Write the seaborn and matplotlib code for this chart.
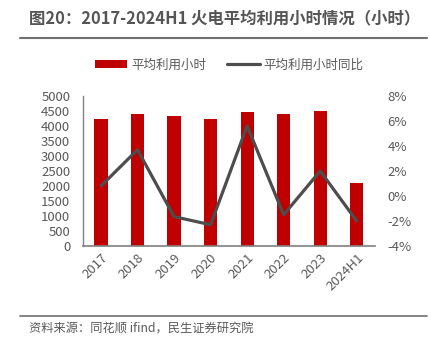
import matplotlib
matplotlib.use("Agg")
import matplotlib.pyplot as plt
import seaborn as sns
import numpy as np
import pandas as pd
from matplotlib.patches import Patch
from matplotlib.lines import Line2D
from matplotlib.ticker import FuncFormatter

years = ["2017", "2018", "2019", "2020", "2021", "2022", "2023", "2024H1"]
hours = [4220, 4400, 4330, 4220, 4470, 4400, 4490, 2100]
yoy = [0.8, 3.7, -1.65, -2.3, 5.6, -1.5, 2.0, -2.0]

title = "图20：2017-2024H1 火电平均利用小时情况（小时）"
bar_label = "平均利用小时"
line_label = "平均利用小时同比"
source = "资料来源：同花顺 ifind，民生证券研究院"

sns.set_theme(style="white")
plt.rcParams["font.family"] = ["Noto Sans CJK SC", "DejaVu Sans"]

df = pd.DataFrame({"year": years, "hours": hours, "yoy": yoy, "pos": np.arange(len(years))})

fig = plt.figure(figsize=(4.31, 3.38), dpi=100)
ax = fig.add_axes([82.7 / 431, 1 - 246 / 338, (375 - 82.7) / 431, 150 / 338])

red = "#C00000"
gray_line = "#4D4D4D"
txt = "#595959"

sns.barplot(data=df, x="year", y="hours", color=red, width=0.36, ax=ax,
            saturation=1, edgecolor="none")
ax.set_ylim(0, 5000)
ax.set_yticks(np.arange(0, 5001, 500))
ax.set_xlim(-0.5, len(years) - 0.5)
ax.set_xlabel("")
ax.set_ylabel("")

ax2 = ax.twinx()
sns.lineplot(data=df, x="pos", y="yoy", color=gray_line, linewidth=2.3, ax=ax2)
ax2.set_ylim(-4, 8)
ax2.set_yticks(np.arange(-4, 8.1, 2))
ax2.yaxis.set_major_formatter(FuncFormatter(lambda v, p: f"{v:.0f}%"))
ax2.set_ylabel("")
ax2.set_xlabel("")
ax2.set_xlim(-0.5, len(years) - 0.5)

for a in (ax, ax2):
    for s in a.spines.values():
        s.set_visible(False)
ax.spines["left"].set_visible(True)
ax.spines["bottom"].set_visible(True)
ax.spines["left"].set_color("#808080")
ax.spines["bottom"].set_color("#808080")
ax.spines["left"].set_linewidth(1.0)
ax.spines["bottom"].set_linewidth(1.2)

ax.tick_params(axis="y", length=0, pad=9, labelsize=9.5, labelcolor=txt)
ax2.tick_params(axis="y", length=0, pad=9, labelsize=9.5, labelcolor=txt)
ax.tick_params(axis="x", length=0, pad=4, labelsize=9.5, labelcolor=txt)
for lab in ax.get_xticklabels():
    lab.set_rotation(45)
    lab.set_ha("right")
    lab.set_rotation_mode("anchor")

handles = [Patch(facecolor=red, edgecolor="none"),
           Line2D([0], [0], color=gray_line, linewidth=2.3)]
fig.legend(handles, [bar_label, line_label], loc="center", ncol=2,
           bbox_to_anchor=(229 / 431, 1 - 65 / 338), frameon=False,
           fontsize=9, handlelength=2.6, handleheight=0.6, handletextpad=0.3,
           columnspacing=1.7, labelcolor=txt)

fig.text(29 / 431, 1 - 18 / 338, title, fontsize=11.8, fontweight="bold",
         color="#555555", ha="left", va="center")
fig.add_artist(Line2D([20 / 431, 427 / 431], [1 - 37.5 / 338, 1 - 37.5 / 338],
                      color="#707070", linewidth=1.5, transform=fig.transFigure))
fig.add_artist(Line2D([20 / 431, 427 / 431], [1 - 316 / 338, 1 - 316 / 338],
                      color="#707070", linewidth=1.2, transform=fig.transFigure))
fig.text(29 / 431, 1 - 329 / 338, source, fontsize=8.8, color=txt,
         ha="left", va="center")

fig.savefig("out.png", dpi=100, facecolor="white")
